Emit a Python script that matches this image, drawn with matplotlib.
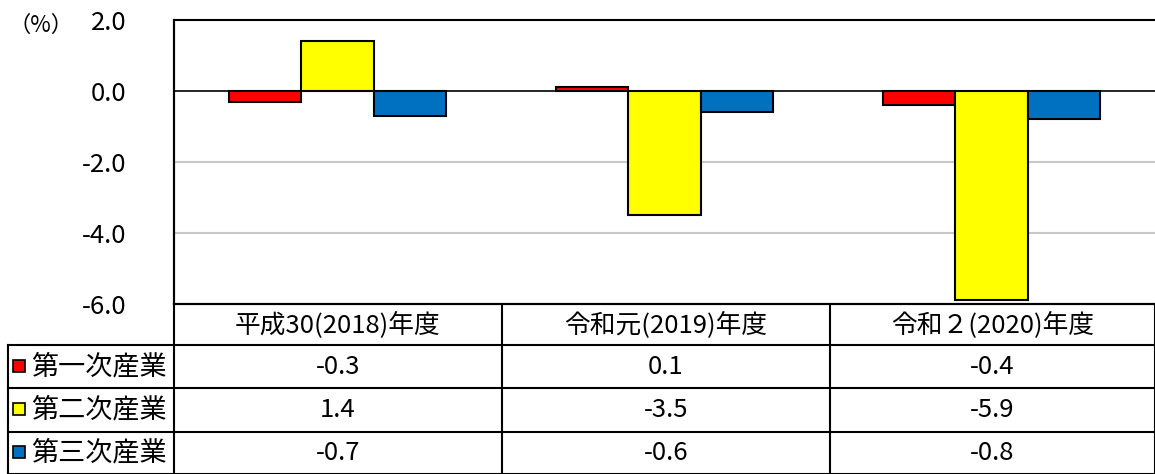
import matplotlib.pyplot as plt
import numpy as np

plt.rcParams['font.family'] = ['Noto Sans CJK JP', 'DejaVu Sans']

years = ["平成30(2018)年度", "令和元(2019)年度", "令和２(2020)年度"]
series_names = ["第一次産業", "第二次産業", "第三次産業"]
primary = [-0.3, 0.1, -0.4]
secondary = [1.4, -3.5, -5.9]
tertiary = [-0.7, -0.6, -0.8]
colors = ["#FF0000", "#FFFF00", "#0070C0"]
y_ticks = [2.0, 0.0, -2.0, -4.0, -6.0]

W, H = 1155, 474
fig = plt.figure(figsize=(W / 100, H / 100), dpi=100)

# plot area in pixels
left, right, top, bottom = 174, 1155, 20, 304
ax = fig.add_axes([left / W, 1 - bottom / H, (right - left) / W, (bottom - top) / H])

values = [primary, secondary, tertiary]
x = np.arange(len(years))
bw = 0.222
for i, (vals, c) in enumerate(zip(values, colors)):
    ax.bar(x + (i - 1) * bw, vals, bw, color=c, edgecolor="black", linewidth=1.5, zorder=3)

ax.set_xlim(-0.5, len(years) - 0.5)
ax.set_ylim(-6, 2)
ax.set_yticks(y_ticks)
ax.set_yticklabels([f"{v:.1f}" for v in y_ticks], fontsize=18.5)
ax.tick_params(axis="y", length=0, pad=34)
ax.set_xticks([])
for v in [-2, -4]:
    ax.axhline(v, color="#c8c8c8", linewidth=1.5, zorder=1)
ax.axhline(0, color="black", linewidth=1.2, zorder=4)
for s in ["top", "left", "bottom"]:
    ax.spines[s].set_linewidth(1.5)
ax.spines["right"].set_visible(False)
fig.text(8 / W, 1 - 25 / H, "（%）", fontsize=16, va="center", ha="left")

# data table below
tb = fig.add_axes([0, 0, 1, 1])
tb.set_xlim(0, W)
tb.set_ylim(H, 0)
tb.axis("off")
col_edges = [174, 502, 830, 1155]
row_edges = [304, 345, 388, 432, 474]
lw = 1.5
tb.plot([174, W], [304, 304], color="black", lw=lw)
for y in row_edges[1:]:
    tb.plot([8, W], [y, y], color="black", lw=lw)
for xe in col_edges:
    tb.plot([xe, xe], [304 if xe > 174 else 20, H], color="black", lw=lw)
tb.plot([8, 8], [345, H], color="black", lw=lw)

for j, name in enumerate(years):
    xc = (col_edges[j] + col_edges[j + 1]) / 2
    tb.text(xc, (row_edges[0] + row_edges[1]) / 2, name, ha="center", va="center", fontsize=18.5)

for i, (name, vals, c) in enumerate(zip(series_names, values, colors)):
    yc = (row_edges[i + 1] + row_edges[i + 2]) / 2
    tb.add_patch(plt.Rectangle((13, yc - 7), 12, 12, facecolor=c, edgecolor="black", lw=1.2))
    tb.text(31, yc, name, ha="left", va="center", fontsize=19.5)
    for j, v in enumerate(vals):
        xc = (col_edges[j] + col_edges[j + 1]) / 2
        tb.text(xc, yc, f"{v:.1f}", ha="center", va="center", fontsize=18.5)

fig.savefig("out.png", dpi=100)
